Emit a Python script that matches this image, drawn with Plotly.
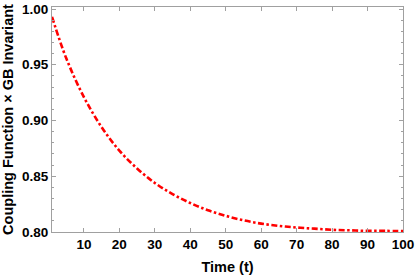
import plotly.graph_objects as go

# values
time_t = [1, 5, 10, 15, 20, 25, 30, 35, 40, 45, 50, 55, 60, 65, 70, 75, 80, 85, 90, 95, 100]
coupling_gb = [0.993, 0.956, 0.921, 0.894, 0.873, 0.857, 0.844, 0.834, 0.826, 0.8195, 0.8145,
               0.8105, 0.8075, 0.8055, 0.804, 0.803, 0.802, 0.8015, 0.801, 0.801, 0.8008]
x_ticks = [10, 20, 30, 40, 50, 60, 70, 80, 90, 100]
y_ticks = [0.80, 0.85, 0.90, 0.95, 1.00]

fig = go.Figure()
fig.add_trace(go.Scatter(
    x=time_t, y=coupling_gb, mode="lines",
    line=dict(color="#ff0000", width=2.6, dash="6px,2.5px,2.5px,2.5px", shape="spline"),
    showlegend=False,
))

frame = "#a0a0a0"
fam = "Liberation Sans, Arial, sans-serif"
fig.update_layout(
    width=415, height=277,
    margin=dict(l=52, r=12, t=7, b=45),
    paper_bgcolor="white", plot_bgcolor="white",
    font=dict(family=fam, size=13, color="black"),
)
fig.update_xaxes(
    range=[1, 100], tickvals=x_ticks, ticktext=[str(v) for v in x_ticks],
    automargin=False,
    showgrid=False, zeroline=False,
    showline=True, linecolor=frame, linewidth=1, mirror="allticks",
    ticks="inside", ticklen=4, tickcolor=frame,
    tickfont=dict(family=fam, size=13.5, color="black", weight="bold"),
    title=dict(text="<b>Time (t)</b>", standoff=10,
               font=dict(family=fam, size=14.5, color="black")),
)
fig.update_yaxes(
    range=[0.8, 1.0018], tickvals=y_ticks, ticktext=[f"{v:.2f}" for v in y_ticks],
    automargin=False,
    showgrid=False, zeroline=False,
    showline=True, linecolor=frame, linewidth=1, mirror="allticks",
    ticks="inside", ticklen=4, tickcolor=frame,
    minor=dict(dtick=0.01, ticks="inside", ticklen=2, tickcolor=frame, showgrid=False),
    tickfont=dict(family=fam, size=13.5, color="black", weight="bold"),
    title=dict(text="<b>Coupling Function × GB Invariant</b>", standoff=6,
               font=dict(family=fam, size=14.5, color="black")),
)

fig.write_html(
    "out.html",
    config={"displayModeBar": False},
    post_script="document.body.style.margin='0';document.body.style.overflow='hidden';",
)
